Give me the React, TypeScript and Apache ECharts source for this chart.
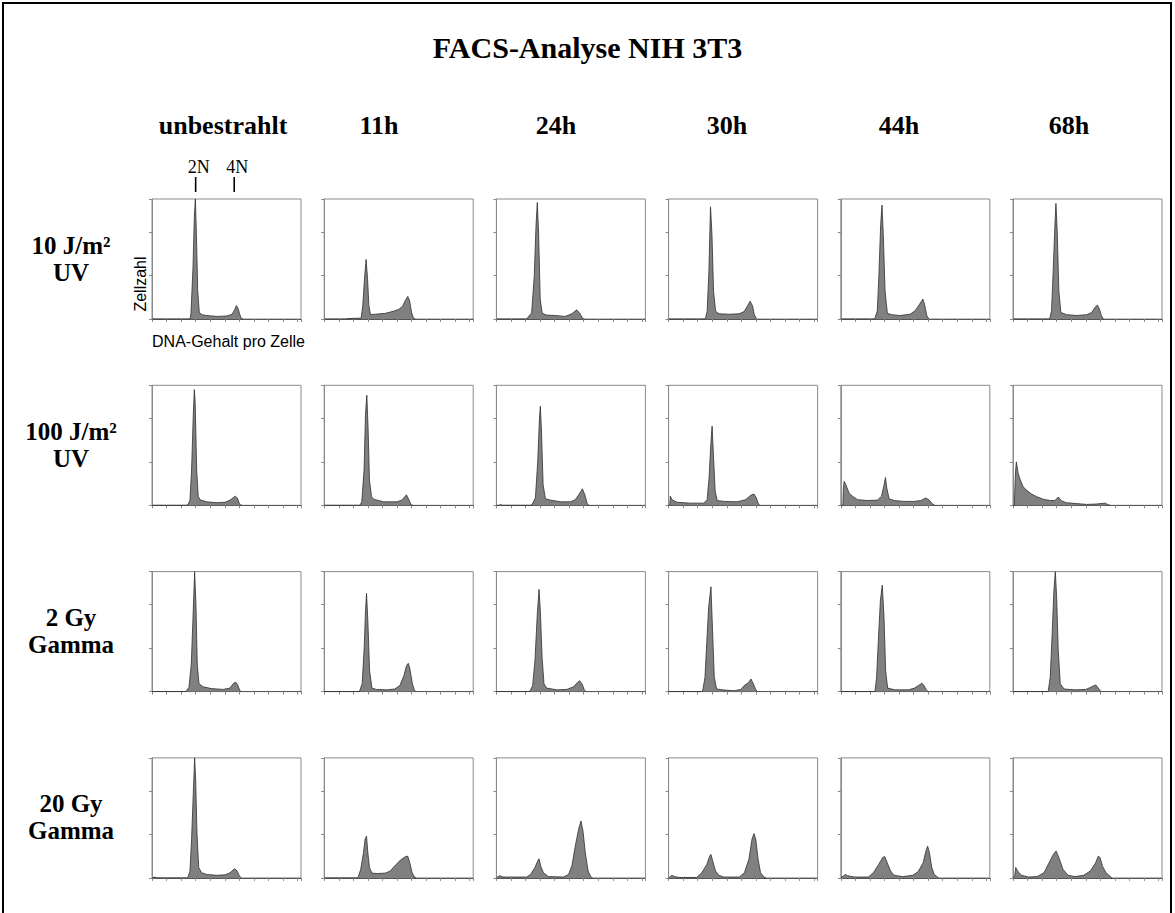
import React, { useEffect, useRef } from "react";
import * as echarts from "echarts";

// ---------- DATA ----------
const title = "FACS-Analyse NIH 3T3";
const columnLabels = ["unbestrahlt", "11h", "24h", "30h", "44h", "68h"];
const rowLabels = [
  ["10 J/m²", "UV"],
  ["100 J/m²", "UV"],
  ["2 Gy", "Gamma"],
  ["20 Gy", "Gamma"],
];
const ploidyLabels = ["2N", "4N"];
const ploidyChannels = [300, 565];
const yAxisName = "Zellzahl";
const xAxisName = "DNA-Gehalt pro Zelle";

// DNA channel (0–1024) vs. cell count (0–276 display units)
const uv10_unb = [[0,0],[250,0],[263,2],[268,14],[282,121],[291,236],[298,276],[305,198],[314,67],[325,15],[344,10],[378,8],[447,6],[515,7],[550,11],[566,20],[580,31],[591,25],[602,12],[612,2],[625,0]];
const uv10_11h = [[0,0],[150,0],[160,1],[254,2],[265,31],[277,93],[288,137],[298,93],[307,31],[318,10],[351,11],[420,13],[477,18],[512,22],[540,30],[558,43],[574,52],[586,43],[600,16],[613,2],[625,0]];
const uv10_24h = [[0,0],[207,0],[242,14],[260,98],[272,213],[281,268],[290,198],[301,46],[315,13],[345,9],[403,8],[472,6],[518,12],[552,21],[575,12],[591,2],[605,0]];
const uv10_30h = [[0,0],[250,0],[254,2],[265,18],[277,110],[288,258],[298,194],[309,64],[323,18],[346,12],[415,11],[484,12],[519,17],[542,30],[560,41],[577,30],[588,11],[604,0]];
const uv10_44h = [[0,0],[230,0],[235,2],[251,19],[262,103],[274,217],[283,262],[292,194],[304,65],[320,13],[350,10],[407,8],[476,11],[511,19],[541,34],[564,46],[578,30],[591,8],[605,0]];
const uv10_68h = [[0,0],[248,0],[253,2],[265,19],[276,110],[288,217],[295,266],[304,201],[315,65],[329,15],[368,10],[437,8],[506,10],[541,15],[564,27],[580,32],[594,23],[607,8],[621,0]];

const uv100_unb = [[0,0],[238,0],[250,4],[261,12],[272,81],[284,211],[291,266],[297,234],[307,81],[318,20],[334,12],[376,8],[445,6],[503,7],[537,12],[572,21],[588,16],[602,2],[618,0]];
const uv100_11h = [[0,0],[245,0],[258,8],[274,81],[284,211],[293,253],[302,173],[311,58],[325,20],[339,14],[408,8],[500,8],[535,12],[565,24],[583,12],[597,1],[610,0]];
const uv100_24h = [[0,0],[20,0],[27,2],[40,0],[235,0],[245,2],[268,17],[284,101],[296,201],[302,228],[309,178],[321,48],[337,15],[371,12],[440,8],[509,8],[543,13],[573,28],[591,38],[607,25],[623,5],[635,0]];
const uv100_30h = [[0,0],[8,0],[12,21],[23,13],[58,7],[150,5],[242,5],[265,13],[278,63],[290,140],[299,182],[308,117],[320,32],[334,11],[380,9],[472,8],[529,13],[564,23],[587,26],[603,17],[617,3],[628,0]];
const uv100_44h = [[0,0],[14,0],[18,40],[23,55],[34,48],[57,28],[80,21],[115,13],[183,11],[252,12],[280,21],[298,48],[307,64],[316,40],[332,15],[367,11],[435,9],[504,9],[550,11],[584,17],[607,12],[630,3],[645,0]];
const uv100_68h = [[0,0],[9,0],[14,50],[18,80],[23,100],[35,74],[46,62],[69,43],[92,35],[127,26],[161,20],[207,14],[253,11],[288,11],[311,19],[334,10],[368,6],[437,4],[506,2],[575,3],[633,5],[656,1],[668,0]];

const gy2_unb = [[0,0],[230,0],[235,1],[254,10],[270,63],[281,163],[293,276],[302,201],[311,63],[323,18],[351,11],[408,7],[489,5],[535,8],[558,18],[574,22],[588,16],[604,2],[615,0]];
const gy2_11h = [[0,0],[238,0],[243,1],[261,18],[275,102],[284,186],[291,226],[300,163],[312,48],[328,8],[358,5],[428,4],[485,6],[520,14],[548,37],[566,60],[578,65],[589,52],[606,18],[619,4],[630,0]];
const gy2_24h = [[0,0],[225,0],[231,1],[249,14],[265,71],[281,178],[293,235],[302,186],[314,79],[327,18],[346,8],[415,4],[484,5],[530,11],[558,21],[572,25],[588,18],[604,4],[615,0]];
const gy2_30h = [[0,0],[228,0],[234,1],[250,33],[263,117],[275,193],[291,241],[302,140],[314,33],[330,6],[371,4],[451,2],[497,5],[520,14],[550,21],[566,29],[582,18],[600,4],[612,0]];
const gy2_44h = [[0,0],[230,0],[235,1],[246,33],[258,117],[272,209],[285,245],[297,171],[308,48],[322,8],[373,4],[465,4],[506,8],[534,14],[557,19],[568,16],[584,6],[598,0]];
const gy2_68h = [[0,0],[236,0],[242,1],[256,33],[270,140],[281,232],[291,276],[300,216],[311,94],[325,18],[351,6],[431,4],[500,5],[535,10],[558,14],[570,15],[586,8],[604,0]];

const gy20_unb = [[0,0],[20,2],[35,0],[238,0],[249,3],[261,16],[272,89],[284,196],[293,276],[300,226],[309,104],[321,24],[341,12],[376,8],[445,6],[503,7],[537,12],[567,21],[583,17],[600,5],[612,0]];
const gy20_11h = [[0,0],[228,0],[235,3],[251,20],[270,58],[281,89],[291,96],[300,58],[311,24],[328,11],[362,10],[420,11],[454,16],[489,29],[524,41],[558,49],[574,50],[588,35],[604,12],[620,2],[632,0]];
const gy20_24h = [[0,0],[12,3],[23,5],[46,2],[208,2],[235,8],[265,24],[284,39],[293,44],[304,28],[323,12],[357,3],[461,2],[496,8],[519,28],[542,73],[565,112],[581,131],[595,108],[611,58],[630,16],[650,2],[660,0]];
const gy20_30h = [[0,0],[12,3],[23,6],[40,3],[75,1],[193,1],[228,12],[263,31],[282,50],[291,54],[303,39],[322,16],[345,6],[380,2],[486,2],[521,12],[552,43],[573,89],[587,102],[599,89],[615,43],[632,12],[655,2],[670,0]];
const gy20_44h = [[0,0],[19,5],[31,8],[47,5],[94,2],[189,2],[224,12],[260,31],[288,47],[302,49],[319,35],[342,16],[366,6],[425,3],[495,6],[531,14],[566,35],[585,62],[597,73],[609,58],[625,24],[642,8],[672,0]];
const gy20_68h = [[0,0],[12,5],[19,24],[35,14],[59,6],[106,2],[166,3],[213,12],[248,35],[277,54],[296,62],[315,47],[343,20],[378,6],[426,3],[485,6],[532,16],[568,35],[586,50],[598,47],[615,27],[639,12],[669,3],[680,0]];

const panelRows = [
  [uv10_unb, uv10_11h, uv10_24h, uv10_30h, uv10_44h, uv10_68h],
  [uv100_unb, uv100_11h, uv100_24h, uv100_30h, uv100_44h, uv100_68h],
  [gy2_unb, gy2_11h, gy2_24h, gy2_30h, gy2_44h, gy2_68h],
  [gy20_unb, gy20_11h, gy20_24h, gy20_30h, gy20_44h, gy20_68h],
];

const X_MAX = 1024;
const Y_MAX = 276;

// ---------- LAYOUT ----------
const W = 1175;
const H = 913;
const P_LEFT = 152;
const P_TOP = 199;
const COL_STEP = 172.2;
const ROW_STEP = 186.3;
const PW = 149;
const PH = 120;
const HEADER_X = [223, 379, 556, 727, 899, 1069];
const SERIF = '"Liberation Serif", "Times New Roman", serif';
const SANS = '"Liberation Sans", Arial, sans-serif';

function buildOption() {
  const grid: any[] = [];
  const xAxis: any[] = [];
  const yAxis: any[] = [];
  const series: any[] = [];
  panelRows.forEach((row, r) => {
    row.forEach((data, c) => {
      const i = r * 6 + c;
      grid.push({
        left: P_LEFT + c * COL_STEP,
        top: P_TOP + r * ROW_STEP,
        width: PW,
        height: PH,
        show: true,
        borderColor: "#8a8a8a",
        borderWidth: 1,
        backgroundColor: "transparent",
      });
      xAxis.push({
        type: "value",
        gridIndex: i,
        min: 0,
        max: X_MAX,
        interval: 100,
        axisLine: { show: true, onZero: false, lineStyle: { color: "#555", width: 1.2 } },
        axisTick: { show: true, inside: false, length: 3, lineStyle: { color: "#888", width: 1 } },
        axisLabel: { show: false },
        splitLine: { show: false },
      });
      yAxis.push({
        type: "value",
        gridIndex: i,
        min: 0,
        max: Y_MAX,
        interval: 100,
        axisLine: { show: true, onZero: false, lineStyle: { color: "#8a8a8a", width: 1 } },
        axisTick: { show: true, inside: false, length: 3, lineStyle: { color: "#888", width: 1 } },
        axisLabel: { show: false },
        splitLine: { show: false },
      });
      series.push({
        type: "line",
        xAxisIndex: i,
        yAxisIndex: i,
        data,
        showSymbol: false,
        symbol: "none",
        silent: true,
        clip: true,
        lineStyle: { color: "#2e2e2e", width: 0.8 },
        areaStyle: { color: "#808080", opacity: 1 },
      });
    });
  });

  const graphic: any[] = [];
  const txt = (text: string, x: number, y: number, font: string, extra: any = {}) => ({
    type: "text",
    x,
    y,
    silent: true,
    ...extra,
    style: { text, x: 0, y: 0, font, fill: "#000", textAlign: "center", textVerticalAlign: "middle" },
  });

  graphic.push({
    type: "polyline",
    silent: true,
    shape: { points: [[3, H + 10], [3, 3], [W - 4, 3], [W - 4, H + 10]] },
    style: { stroke: "#000", lineWidth: 2, fill: "none" },
  });
  graphic.push(txt(title, W / 2, 47, `bold 30px ${SERIF}`));
  columnLabels.forEach((t, c) => graphic.push(txt(t, HEADER_X[c], 125, `bold 26px ${SERIF}`)));
  rowLabels.forEach((lines, r) => {
    const top = P_TOP + r * ROW_STEP;
    graphic.push(txt(lines[0], 71, top + 46, `bold 25px ${SERIF}`));
    graphic.push(txt(lines[1], 71, top + 73, `bold 25px ${SERIF}`));
  });
  ploidyLabels.forEach((t, k) => {
    const px = P_LEFT + (ploidyChannels[k] / X_MAX) * PW;
    graphic.push(txt(t, px + 3, 167, `18px ${SERIF}`));
    graphic.push({
      type: "line",
      silent: true,
      shape: { x1: px, y1: 177, x2: px, y2: 192 },
      style: { stroke: "#000", lineWidth: 1.6 },
    });
  });
  graphic.push(txt(yAxisName, 140, 284, `16px ${SANS}`, { rotation: Math.PI / 2 }));
  graphic.push(txt(xAxisName, P_LEFT + PW / 2 + 2, 341, `16px ${SANS}`));

  return {
    animation: false,
    backgroundColor: "#fff",
    grid,
    xAxis,
    yAxis,
    series,
    graphic,
  };
}

export default function App() {
  const ref = useRef<HTMLDivElement>(null);
  useEffect(() => {
    if (!ref.current) return;
    const chart = echarts.init(ref.current, undefined, { renderer: "svg" });
    chart.setOption(buildOption() as any);
    return () => chart.dispose();
  }, []);
  return (
    <div
      ref={ref}
      style={{ position: "absolute", left: 0, top: 0, width: W, height: H, background: "#fff" }}
    />
  );
}
